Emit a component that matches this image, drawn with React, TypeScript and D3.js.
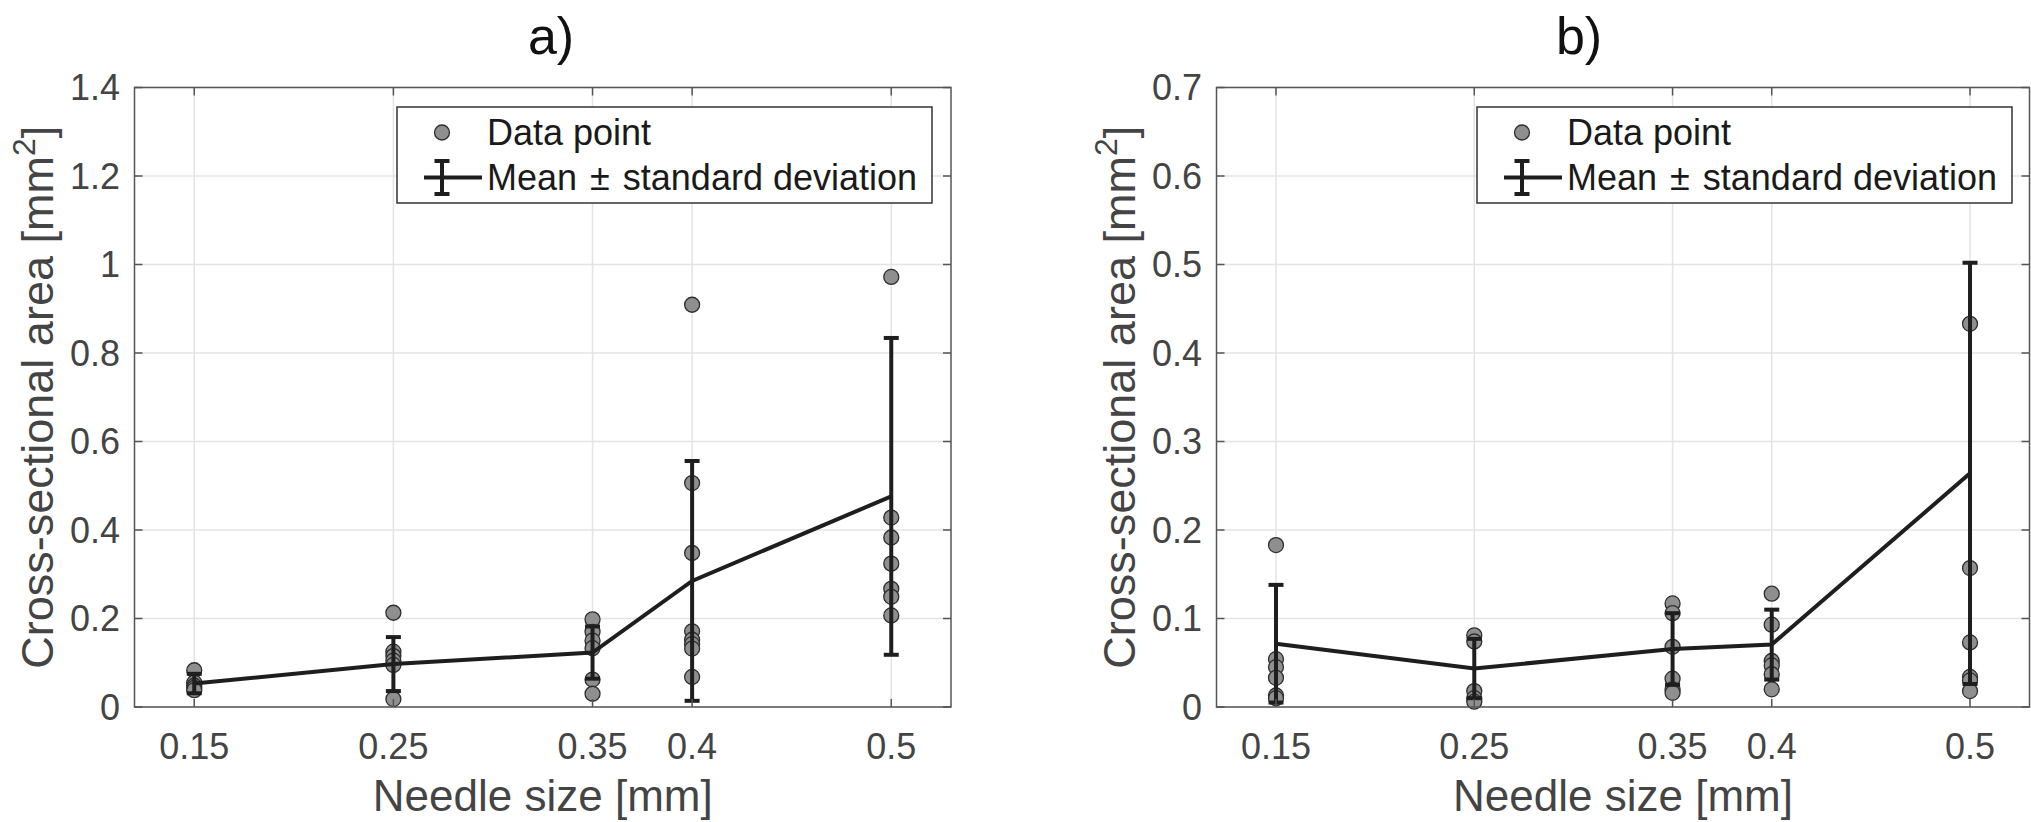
import React from "react";
import * as d3 from "d3";

const W = 2031;
const H = 822;
const FONT = "'Liberation Sans', Arial, Helvetica, sans-serif";

// Needle sizes (x categories)
const needleSizes = [0.15, 0.25, 0.35, 0.4, 0.5];
const xTickLabels = ["0.15", "0.25", "0.35", "0.4", "0.5"];

// Panel a) data points per needle size
const pointsA = [
  [0.083, 0.055, 0.048, 0.043, 0.038],
  [0.213, 0.125, 0.115, 0.105, 0.095, 0.018],
  [0.198, 0.17, 0.15, 0.133, 0.062, 0.03],
  [0.909, 0.506, 0.348, 0.171, 0.152, 0.142, 0.132, 0.068],
  [0.972, 0.428, 0.383, 0.324, 0.267, 0.249, 0.207],
];
const meanA = [0.053, 0.097, 0.123, 0.285, 0.476];
const sdA = [0.022, 0.061, 0.059, 0.271, 0.358];
const yTicksA = [0, 0.2, 0.4, 0.6, 0.8, 1, 1.2, 1.4];

// Panel b) data points per needle size
const pointsB = [
  [0.183, 0.054, 0.045, 0.033, 0.013, 0.01],
  [0.081, 0.074, 0.018, 0.01, 0.006],
  [0.117, 0.106, 0.068, 0.032, 0.02, 0.016],
  [0.128, 0.093, 0.052, 0.047, 0.037, 0.02],
  [0.433, 0.157, 0.073, 0.034, 0.03, 0.018],
];
const meanB = [0.0715, 0.0435, 0.0655, 0.0705, 0.264];
const sdB = [0.0665, 0.0335, 0.0405, 0.0395, 0.238];
const yTicksB = [0, 0.1, 0.2, 0.3, 0.4, 0.5, 0.6, 0.7];

const xDomain: [number, number] = [0.12, 0.53];

type PanelProps = {
  left: number;
  right: number;
  top: number;
  bottom: number;
  yMax: number;
  yTicks: number[];
  points: number[][];
  means: number[];
  sds: number[];
  title: string;
  titleX: number;
  legendLeft: number;
  legendRight: number;
  yLabelX: number;
};

const fmt = (v: number) => String(+v.toFixed(2));

function Panel(p: PanelProps) {
  const x = d3.scaleLinear().domain(xDomain).range([p.left, p.right]);
  const y = d3.scaleLinear().domain([0, p.yMax]).range([p.bottom, p.top]);
  const tick = 8;
  const gridColor = "#e4e4e4";
  const axisColor = "#555555";
  const labelColor = "#444444";
  const lineColor = "#1e1e1e";
  const cap = 7.5;
  const line = d3
    .line<number>()
    .x((_, i) => x(needleSizes[i]))
    .y((d) => y(d));
  const midY = (p.top + p.bottom) / 2;
  const lg = p.legendLeft;
  const mx = lg + 45;
  return (
    <g>
      {/* grid */}
      {needleSizes.map((v, i) => (
        <line key={"gx" + i} x1={x(v)} x2={x(v)} y1={p.top} y2={p.bottom} stroke={gridColor} strokeWidth={1.5} />
      ))}
      {p.yTicks.map((v, i) => (
        <line key={"gy" + i} x1={p.left} x2={p.right} y1={y(v)} y2={y(v)} stroke={gridColor} strokeWidth={1.5} />
      ))}
      {/* data points */}
      {p.points.map((arr, i) =>
        arr.map((v, j) => (
          <circle
            key={`p${i}-${j}`}
            cx={x(needleSizes[i])}
            cy={y(v)}
            r={7.5}
            fill="#8f8f8f"
            stroke="#2e2e2e"
            strokeWidth={1.3}
          />
        ))
      )}
      {/* mean line */}
      <path d={line(p.means) || ""} fill="none" stroke={lineColor} strokeWidth={4} />
      {/* error bars */}
      {p.means.map((m, i) => {
        const cx = x(needleSizes[i]);
        const y1 = y(m - p.sds[i]);
        const y2 = y(m + p.sds[i]);
        return (
          <g key={"e" + i} stroke={lineColor} strokeWidth={4}>
            <line x1={cx} x2={cx} y1={y1} y2={y2} />
            <line x1={cx - cap} x2={cx + cap} y1={y1} y2={y1} />
            <line x1={cx - cap} x2={cx + cap} y1={y2} y2={y2} />
          </g>
        );
      })}
      {/* box and ticks */}
      <rect x={p.left} y={p.top} width={p.right - p.left} height={p.bottom - p.top} fill="none" stroke={axisColor} strokeWidth={1.5} />
      {needleSizes.map((v, i) => (
        <g key={"tx" + i} stroke={axisColor} strokeWidth={1.5}>
          <line x1={x(v)} x2={x(v)} y1={p.bottom} y2={p.bottom - tick} />
          <line x1={x(v)} x2={x(v)} y1={p.top} y2={p.top + tick} />
        </g>
      ))}
      {p.yTicks.map((v, i) => (
        <g key={"ty" + i} stroke={axisColor} strokeWidth={1.5}>
          <line x1={p.left} x2={p.left + tick} y1={y(v)} y2={y(v)} />
          <line x1={p.right} x2={p.right - tick} y1={y(v)} y2={y(v)} />
        </g>
      ))}
      {/* tick labels */}
      {needleSizes.map((v, i) => (
        <text key={"lx" + i} x={x(v)} y={759} textAnchor="middle" fontSize={36} fill={labelColor} fontFamily={FONT}>
          {xTickLabels[i]}
        </text>
      ))}
      {p.yTicks.map((v, i) => (
        <text
          key={"ly" + i}
          x={p.left - 14.5}
          y={y(v)}
          textAnchor="end"
          dominantBaseline="central"
          fontSize={36}
          fill={labelColor}
          fontFamily={FONT}
        >
          {fmt(v)}
        </text>
      ))}
      {/* axis labels */}
      <text x={(p.left + p.right) / 2} y={811} textAnchor="middle" fontSize={44} fill={labelColor} fontFamily={FONT}>
        Needle size [mm]
      </text>
      <text
        transform={`translate(${p.yLabelX},${midY}) rotate(-90)`}
        textAnchor="middle"
        fontSize={45}
        fill={labelColor}
        fontFamily={FONT}
      >
        Cross-sectional area [mm
        <tspan fontSize={32} dy={-18}>
          2
        </tspan>
        <tspan dy={18}>]</tspan>
      </text>
      {/* title */}
      <text x={p.titleX} y={54} textAnchor="middle" fontSize={52} fill="#111" fontFamily={FONT}>
        {p.title}
      </text>
      {/* legend */}
      <rect x={lg} y={107} width={p.legendRight - lg} height={96} fill="#fff" stroke="#333" strokeWidth={1.5} />
      <circle cx={mx} cy={132.5} r={7.5} fill="#8f8f8f" stroke="#2e2e2e" strokeWidth={1.3} />
      <g stroke={lineColor} strokeWidth={4}>
        <line x1={lg + 27} x2={lg + 85} y1={177.5} y2={177.5} />
        <line x1={mx} x2={mx} y1={161} y2={194} />
        <line x1={mx - cap} x2={mx + cap} y1={161} y2={161} />
        <line x1={mx - cap} x2={mx + cap} y1={194} y2={194} />
      </g>
      <text x={lg + 90} y={145} fontSize={36} fill="#1a1a1a" fontFamily={FONT}>
        Data point
      </text>
      <text x={lg + 90} y={190} fontSize={36} fill="#1a1a1a" fontFamily={FONT}>
        Mean
        <tspan dx={13}>±</tspan>
        <tspan dx={13}>standard deviation</tspan>
      </text>
    </g>
  );
}

export default function App() {
  return (
    <svg
      width={W}
      height={H}
      viewBox={`0 0 ${W} ${H}`}
      style={{ position: "absolute", left: 0, top: 0, display: "block", background: "#fff" }}
    >
      <rect x={0} y={0} width={W} height={H} fill="#fff" />
      <Panel
        left={134.5}
        right={951}
        top={87.5}
        bottom={707}
        yMax={1.4}
        yTicks={yTicksA}
        points={pointsA}
        means={meanA}
        sds={sdA}
        title="a)"
        titleX={551}
        legendLeft={397}
        legendRight={932}
        yLabelX={53}
      />
      <Panel
        left={1216.5}
        right={2029.5}
        top={87.5}
        bottom={707}
        yMax={0.7}
        yTicks={yTicksB}
        points={pointsB}
        means={meanB}
        sds={sdB}
        title="b)"
        titleX={1579}
        legendLeft={1477}
        legendRight={2012}
        yLabelX={1135}
      />
    </svg>
  );
}
